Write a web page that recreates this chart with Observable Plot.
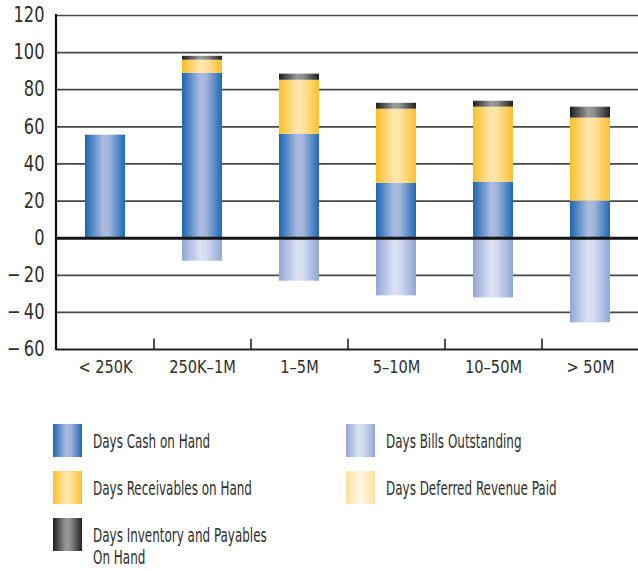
<!DOCTYPE html>
<html>
<head>
<meta charset="utf-8">
<script src="https://cdn.jsdelivr.net/npm/d3@7"></script>
<script src="https://cdn.jsdelivr.net/npm/@observablehq/plot@0.6"></script>
<style>
  body { margin: 0; background: #fff; }
  #wrap { position: relative; width: 638px; height: 571px; overflow: hidden; font-family: "DejaVu Sans Condensed", sans-serif; color: #333; }
  #chart svg { display: block; }
  #legend { position: absolute; left: 0; top: 0; width: 638px; height: 571px; pointer-events: none; }
  .sw { position: absolute; width: 29px; height: 33px; }
  .lb { position: absolute; font-size: 19px; white-space: nowrap; color: #2e2e2e; transform: scaleX(0.7); transform-origin: 0 50%; }
</style>
</head>
<body>
<div id="wrap">
  <div id="chart"></div>
  <div id="legend"></div>
</div>
<script>
const categories = ["< 250K", "250K\u20131M", "1\u20135M", "5\u201310M", "10\u201350M", "> 50M"];
const cashDays        = [55.5, 88.9, 56.0, 29.6, 30.2, 19.9];
const receivablesDays = [0, 7.0, 29.1, 39.9, 40.4, 44.8];
const inventoryDays   = [0, 2.1, 3.3, 3.2, 3.2, 5.9];
const deferredDays    = [0, 0, 0, 0, 0, 0];
const billsDays       = [0, -12.4, -23.2, -31.1, -32.2, -45.6];
const yTicks = [-60, -40, -20, 0, 20, 40, 60, 80, 100, 120];

const seriesNames = ["Days Cash on Hand", "Days Receivables on Hand", "Days Inventory and Payables On Hand", "Days Deferred Revenue Paid", "Days Bills Outstanding"];
const seriesValues = [cashDays, receivablesDays, inventoryDays, deferredDays, billsDays];
const gradIds = ["g-cash", "g-rec", "g-inv", "g-def", "g-bills"];
const gradStops = [
  [["0%", "#1a66b1"], ["45%", "#abbbe0"], ["60%", "#a4b5dc"], ["100%", "#1d6ab5"]],
  [["0%", "#fdbf26"], ["45%", "#fee6ae"], ["60%", "#fde2a0"], ["100%", "#fdc12e"]],
  [["0%", "#1e1e1e"], ["45%", "#9a9a9a"], ["60%", "#8e8e8e"], ["100%", "#222222"]],
  [["0%", "#fde099"], ["45%", "#fff7e4"], ["60%", "#fef3d6"], ["100%", "#fde29e"]],
  [["0%", "#91a6d7"], ["45%", "#dbe2f2"], ["60%", "#d3dbef"], ["100%", "#92a7d8"]]
];

const data = [];
seriesNames.forEach((s, i) => {
  categories.forEach((c, j) => {
    if (seriesValues[i][j] !== 0) data.push({category: c, series: s, value: seriesValues[i][j]});
  });
});

function defsMark() {
  const g = d3.create("svg:g");
  const defs = g.append("defs");
  gradIds.forEach((id, i) => {
    const lg = defs.append("linearGradient").attr("id", id).attr("x1", 0).attr("x2", 1).attr("y1", 0).attr("y2", 0);
    gradStops[i].forEach(([o, c]) => lg.append("stop").attr("offset", o).attr("stop-color", c));
  });
  return g.node();
}

function leftAxisLine(index, scales, values, dims) {
  const ml = dims ? dims.marginLeft : 56;
  const y = scales.y;
  const g = d3.create("svg:g");
  g.append("line").attr("x1", ml).attr("x2", ml).attr("y1", y(120) - 1).attr("y2", y(-60) + 1)
    .attr("stroke", "#111").attr("stroke-width", 2.2);
  return g.node();
}

const fmt = d => d < 0 ? "\u2212\u2009" + Math.abs(d) : String(d);

const chart = Plot.plot({
  width: 638,
  height: 395,
  marginLeft: 56,
  marginRight: 0,
  marginTop: 15,
  marginBottom: 46,
  style: {fontFamily: "'DejaVu Sans Condensed', sans-serif", background: "#fff"},
  x: {domain: categories, paddingInner: 0.59, paddingOuter: 0.295, axis: null},
  y: {domain: [-60, 120], axis: null},
  color: {type: "ordinal", domain: seriesNames, range: gradIds.map(id => `url(#${id})`)},
  marks: [
    defsMark,
    Plot.ruleY(yTicks.filter(t => t !== 0 && t !== -60), {stroke: "#474747", strokeWidth: 1.7}),
    Plot.barY(data, Plot.stackY({x: "category", y: "value", fill: "series", order: seriesNames})),
    Plot.ruleY([0], {stroke: "#151515", strokeWidth: 3}),
    Plot.ruleY([-60], {stroke: "#222", strokeWidth: 2}),
    leftAxisLine,
    Plot.ruleX(categories.slice(0, -1), {x: d => d, y1: -60, y2: -54.5, dx: 48.5, stroke: "#222", strokeWidth: 1.6}),
    Plot.text(yTicks, {y: d => d, text: fmt, frameAnchor: "left", textAnchor: "end", dx: -12, fontSize: 21, fill: "#2e2e2e"}),
    Plot.text(categories, {x: d => d, text: d => d, frameAnchor: "bottom", dy: 23, fontSize: 18, fill: "#2e2e2e"})
  ]
});
document.getElementById("chart").appendChild(chart);

// condense the text glyphs (the reference uses a condensed gothic face)
const textGroups = chart.querySelectorAll('g[aria-label="text"]');
const squeeze = [0.86, 0.9];
textGroups.forEach((g, gi) => {
  g.querySelectorAll("text").forEach(t => {
    const len = t.getComputedTextLength();
    t.setAttribute("textLength", (len * squeeze[Math.min(gi, 1)]).toFixed(1));
    t.setAttribute("lengthAdjust", "spacingAndGlyphs");
  });
});

// Legend (HTML, below the SVG area)
const legendItems = [
  {idx: 0, left: 53, top: 424, label: "Days Cash on Hand"},
  {idx: 1, left: 53, top: 471, label: "Days Receivables on Hand"},
  {idx: 2, left: 53, top: 518, label: "Days Inventory and Payables<br>On Hand", two: true},
  {idx: 4, left: 346, top: 424, label: "Days Bills Outstanding"},
  {idx: 3, left: 346, top: 471, label: "Days Deferred Revenue Paid"}
];
const legend = document.getElementById("legend");
legendItems.forEach(it => {
  const sw = document.createElement("div");
  sw.className = "sw";
  sw.style.left = it.left + "px";
  sw.style.top = it.top + "px";
  sw.style.background = "linear-gradient(to right, " + gradStops[it.idx].map(([o, c]) => c + " " + o).join(", ") + ")";
  legend.appendChild(sw);
  const lb = document.createElement("div");
  lb.className = "lb";
  lb.style.left = (it.left + 40) + "px";
  if (it.two) {
    lb.style.top = (it.top + 6) + "px";
    lb.style.lineHeight = "22px";
  } else {
    lb.style.top = (it.top + 1) + "px";
    lb.style.lineHeight = "33px";
  }
  lb.innerHTML = it.label;
  legend.appendChild(lb);
});
</script>
</body>
</html>
